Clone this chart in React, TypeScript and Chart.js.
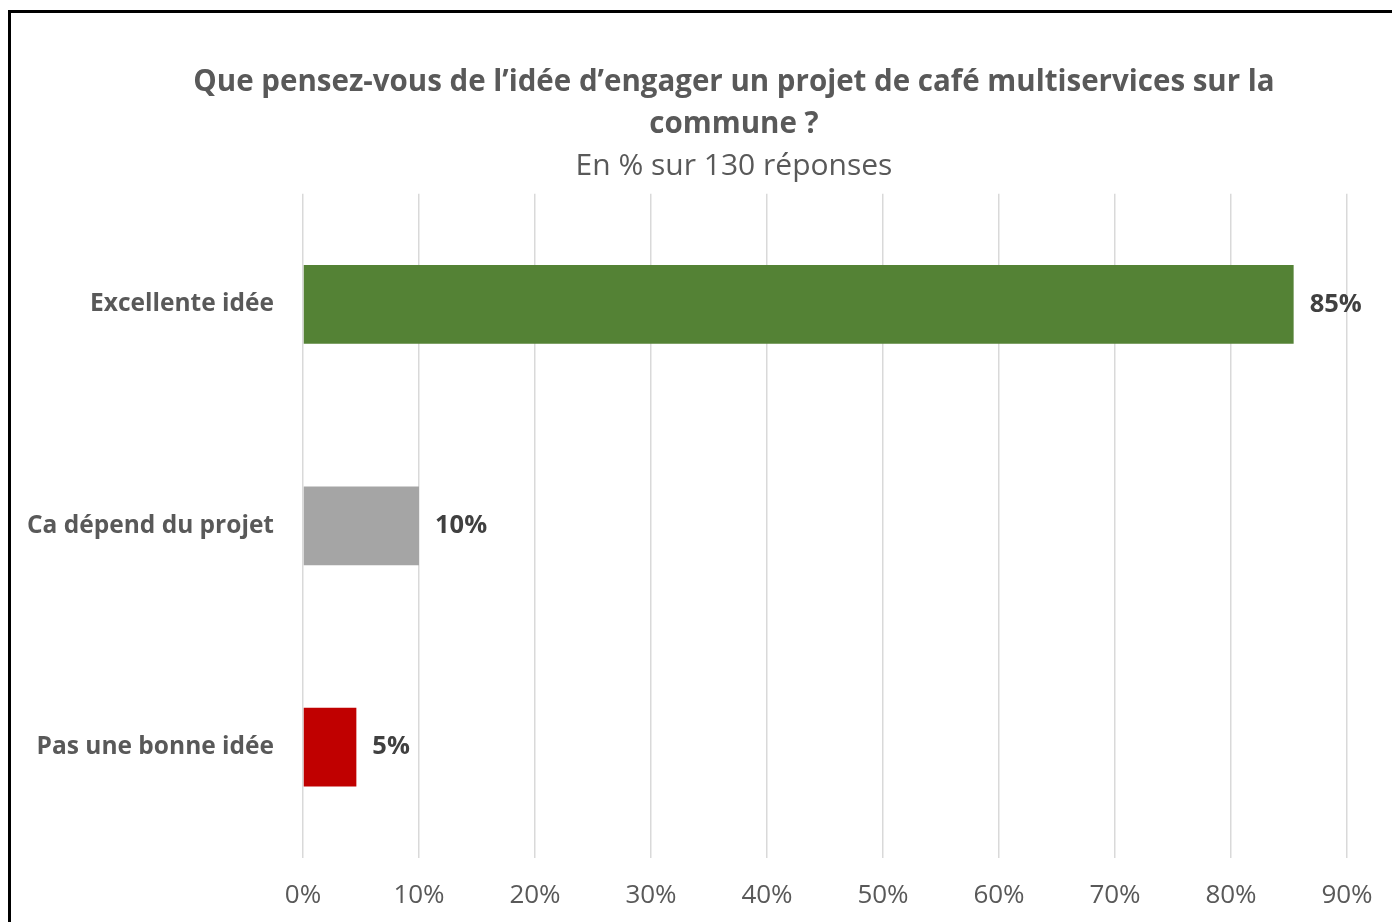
import React, { useEffect, useRef } from "react";
import { Chart, registerables } from "chart.js";

Chart.register(...registerables);

const categories = ["Excellente idée", "Ca dépend du projet", "Pas une bonne idée"];
const values = [85.4, 10.0, 4.6];
const barColors = ["#548235", "#A5A5A5", "#C00000"];
const titleLines = [
  "Que pensez-vous de l\u2019idée d\u2019engager un projet de café multiservices sur la",
  "commune ?",
];
const subtitleText = "En % sur 130 réponses";
const xMax = 90;
const xStep = 10;

const FONT = "'Open Sans', 'Noto Sans', sans-serif";

const dataLabelPlugin = {
  id: "barValueLabels",
  afterDatasetsDraw(chart: any) {
    const ctx = chart.ctx;
    const meta = chart.getDatasetMeta(0);
    ctx.save();
    ctx.font = `bold 25.5px ${FONT}`;
    ctx.fillStyle = "#404040";
    ctx.textAlign = "left";
    ctx.textBaseline = "middle";
    meta.data.forEach((bar: any, i: number) => {
      const v = chart.data.datasets[0].data[i] as number;
      ctx.fillText(`${Math.round(v)}%`, bar.x + 16, bar.y);
    });
    ctx.restore();
  },
};

// let the category labels use the space to the left of the y axis box
const widenLabelArea = {
  id: "widenLabelArea",
  afterLayout(chart: any) {
    chart.scales.y.left = 0;
  },
};

export default function App() {
  const ref = useRef<HTMLCanvasElement>(null);
  useEffect(() => {
    if (!ref.current) return;
    const chart = new Chart(ref.current, {
      type: "bar",
      data: {
        labels: categories,
        datasets: [
          {
            data: values,
            backgroundColor: barColors,
            borderWidth: 0,
            categoryPercentage: 1,
            barPercentage: 0.356,
          },
        ],
      },
      options: {
        indexAxis: "y",
        responsive: false,
        animation: false,
        layout: { padding: { left: 110, right: 110, top: 0, bottom: 0 } },
        plugins: {
          legend: { display: false },
          tooltip: { enabled: false },
          title: {
            display: true,
            text: titleLines,
            color: "#595959",
            font: { family: FONT, size: 29.5, weight: "bold", lineHeight: 1.42 },
            padding: { top: 49, bottom: 0 },
          },
          subtitle: {
            display: true,
            text: subtitleText,
            color: "#595959",
            font: { family: FONT, size: 30, weight: "normal", lineHeight: 1.2 },
            padding: { top: 3, bottom: 9 },
          },
        },
        scales: {
          x: {
            min: 0,
            max: xMax,
            ticks: {
              stepSize: xStep,
              color: "#595959",
              font: { family: FONT, size: 26 },
              padding: 22,
              callback: (v: any) => `${v}%`,
            },
            grid: { color: "#D9D9D9", lineWidth: 1.5, drawTicks: false },
            border: { display: false },
          },
          y: {
            ticks: {
              color: "#595959",
              font: { family: FONT, size: 24.5, weight: "bold" },
              padding: 29,
            },
            grid: { display: false, drawTicks: false },
            border: { display: false },
            afterFit: (scale: any) => {
              scale.width = 182;
            },
          },
        },
      },
      plugins: [dataLabelPlugin, widenLabelArea],
    });
    return () => chart.destroy();
  }, []);

  return (
    <div
      style={{
        position: "fixed",
        left: 8,
        top: 10,
        width: 1460,
        height: 940,
        border: "3px solid #000",
        background: "#fff",
      }}
    >
      <canvas ref={ref} width={1446} height={920} style={{ display: "block" }} />
    </div>
  );
}
